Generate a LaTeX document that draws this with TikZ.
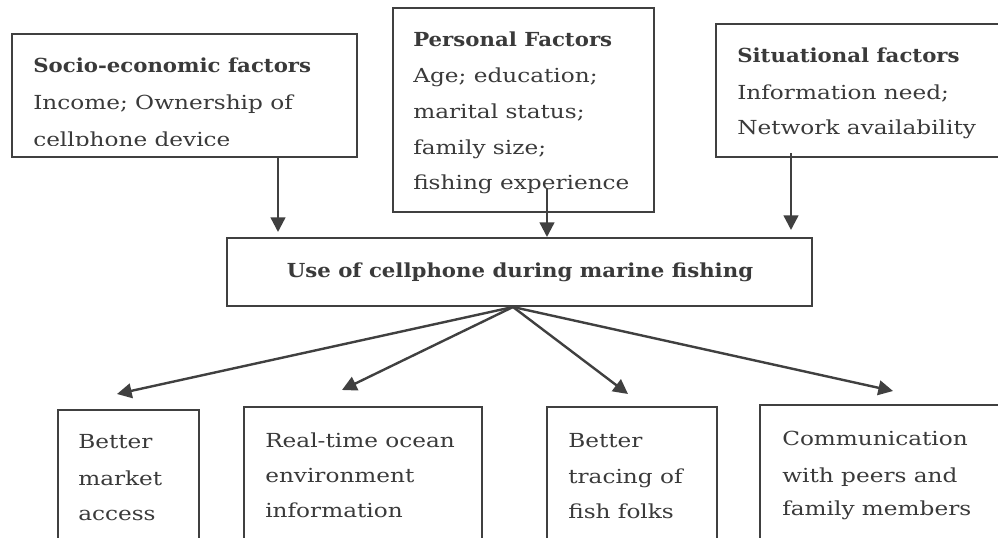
\documentclass[tikz,border=0pt]{standalone}
\usepackage{fontspec}
\setmainfont{DejaVu Serif}[UprightFeatures={FakeStretch=1.2},BoldFeatures={FakeStretch=1.1}]
\newcommand\fsz{\fontsize{14.5}{17}\selectfont}
\usetikzlibrary{arrows.meta,fit}
\definecolor{ink}{HTML}{3A3A3A}
\definecolor{lineink}{HTML}{404040}
\begin{document}
\begin{tikzpicture}[x=0.75pt,y=-0.75pt,
  box/.style={draw=lineink, line width=1.2pt, rectangle, inner sep=0pt},
  txt/.style={anchor=base west, inner sep=0pt, text=ink, font=\fsz},
  btxt/.style={txt, font=\fsz\bfseries},
  arr/.style={draw=lineink, line width=1.8pt, -{Triangle[length=11pt,width=11pt]}}]
\useasboundingbox[fill=white] (0,0) rectangle (998,538);

% boxes
\node[box, fit={(12,34) (357,157)}] (soc) {};
\node[box, fit={(393,8) (654,212)}] (per) {};
\node[box, fit={(716,24) (1010,157)}] (sit) {};
\node[box, fit={(227,238) (812,306)}] (use) {};
\node[box, fit={(58,410) (199,560)}] (b1) {};
\node[box, fit={(244,407) (482,560)}] (b2) {};
\node[box, fit={(547,407) (717,560)}] (b3) {};
\node[box, fit={(760,405) (1010,560)}] (b4) {};

% socio-economic text
\node[btxt] (s1) at (33,73) {Socio-economic factors};
\node[txt] (s2) at (33,110) {Income; Ownership of};
\begin{scope}
\clip (13,35) rectangle (356,146);
\node[txt] (s3) at (33,147) {cellphone device};
\end{scope}

% personal text
\node[btxt] (p1) at (413,47) {Personal Factors};
\node[txt] (p2) at (413,83) {Age; education;};
\node[txt] (p3) at (413,119) {marital status;};
\node[txt] (p4) at (413,155) {family size;};
\node[txt] (p5) at (413,190) {fishing experience};

% situational text
\node[btxt] (t1) at (737,63) {Situational factors};
\node[txt] (t2) at (737,100) {Information need;};
\node[txt] (t3) at (737,135) {Network availability};

% central text
\node[btxt, anchor=base] (u1) at (520,277) {Use of cellphone during marine fishing};

% outcome texts
\node[txt] (a1) at (78,448) {Better};
\node[txt] (a2) at (78,485) {market};
\node[txt] (a3) at (78,520) {access};
\node[txt] (r1) at (265,447) {Real-time ocean};
\node[txt] (r2) at (265,482) {environment};
\node[txt] (r3) at (265,517) {information};
\node[txt] (c1) at (568,447) {Better};
\node[txt] (c2) at (568,483) {tracing of};
\node[txt] (c3) at (568,518) {fish folks};
\node[txt] (d1) at (782,445) {Communication};
\node[txt] (d2) at (782,482) {with peers and};
\node[txt] (d3) at (782,515) {family members};

% connector end points
\coordinate (socS) at (278,157);
\coordinate (socT) at (278,232);
\coordinate (perS) at (547,188);
\coordinate (perT) at (547,237);
\coordinate (sitS) at (791,153);
\coordinate (sitT) at (791,230);
\coordinate (hub) at (513,307);
\coordinate (e1) at (117,394);
\coordinate (e2) at (342,390);
\coordinate (e3) at (628,394);
\coordinate (e4) at (893,391);

\draw[arr] (socS) -- (socT);
\draw[arr] (perS) -- (perT);
\draw[arr] (sitS) -- (sitT);
\draw[arr] (hub) -- (e1);
\draw[arr] (hub) -- (e2);
\draw[arr] (hub) -- (e3);
\draw[arr] (hub) -- (e4);
\end{tikzpicture}
\end{document}
